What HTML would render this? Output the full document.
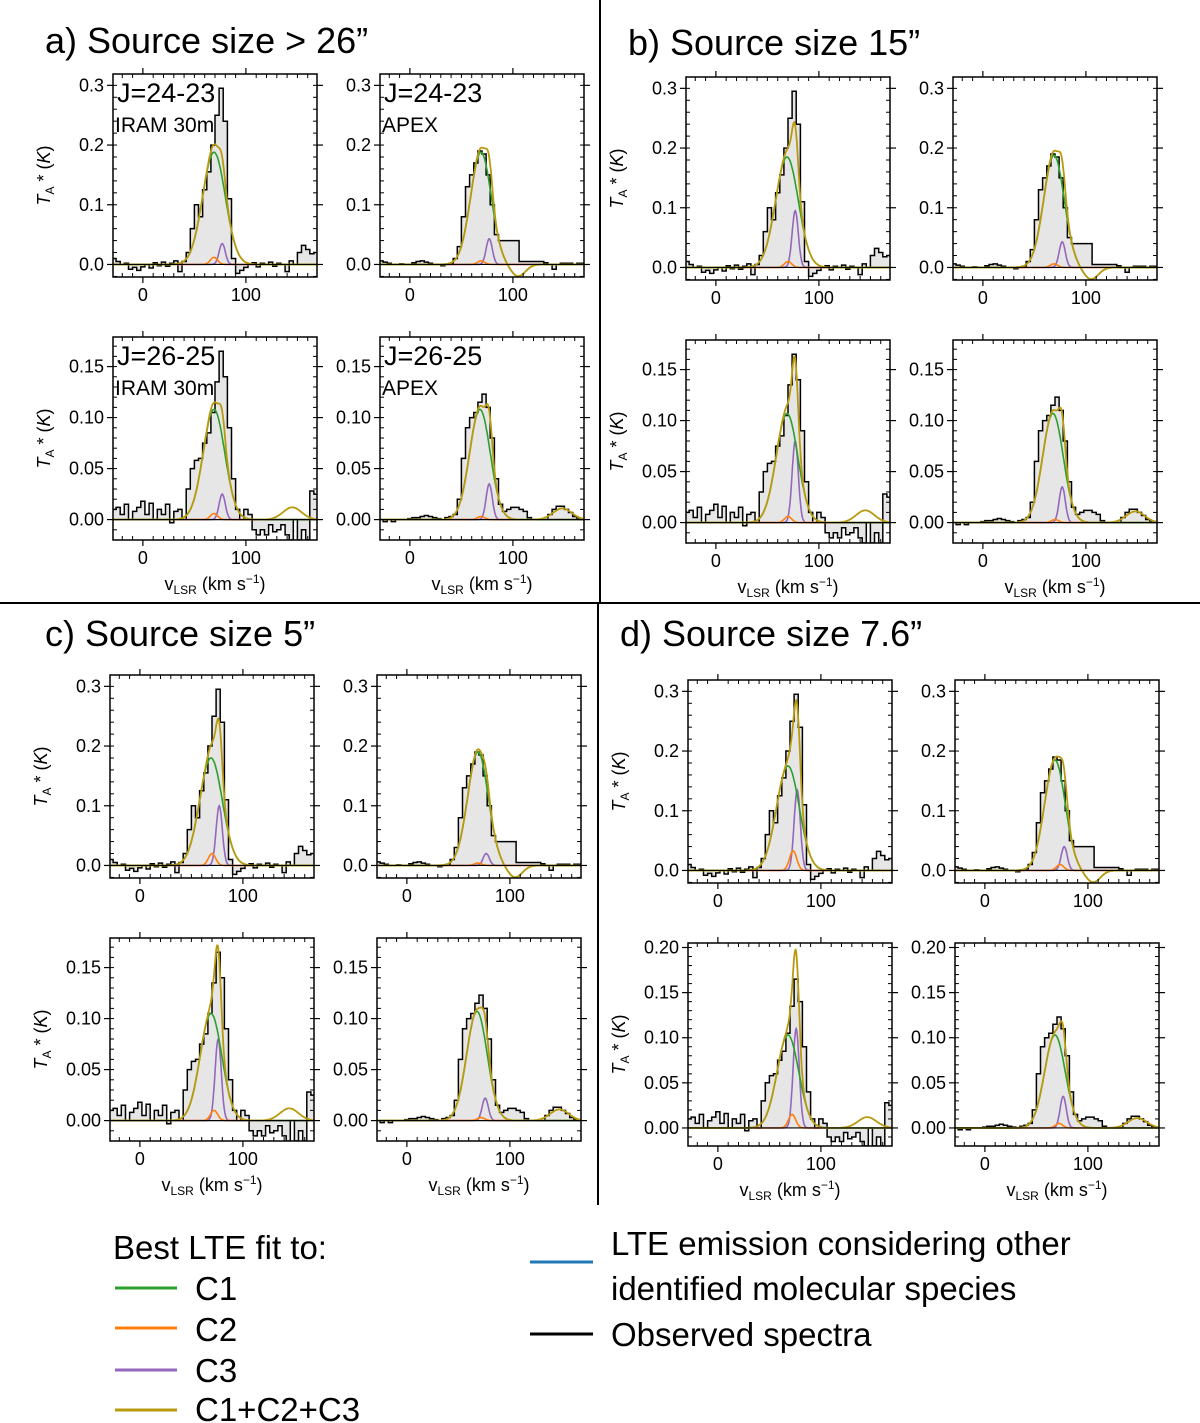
<!DOCTYPE html>
<html><head><meta charset="utf-8">
<style>
html,body{margin:0;padding:0;background:#fff;}
svg{display:block;font-family:"Liberation Sans",sans-serif;}
</style></head>
<body>
<svg id="fig" width="1200" height="1423" viewBox="0 0 1200 1423" xmlns="http://www.w3.org/2000/svg">
<rect x="0" y="0" width="1200" height="1423" fill="#fff"/>
<line x1="600" y1="0" x2="600" y2="603" stroke="#000" stroke-width="2"/>
<line x1="0" y1="603" x2="1200" y2="603" stroke="#000" stroke-width="2"/>
<line x1="598" y1="603" x2="598" y2="1205" stroke="#000" stroke-width="2"/>
<text x="45" y="53" font-size="36">a) Source size &gt; 26”</text>
<text x="628" y="55" font-size="36">b) Source size 15”</text>
<text x="45" y="646" font-size="36">c) Source size 5”</text>
<text x="620" y="646" font-size="36">d) Source size 7.6”</text>
<g id="plots"></g>
<g>
<text x="113" y="1259" font-size="33">Best LTE fit to:</text>
<line x1="115" y1="1288" x2="177" y2="1288" stroke="#2ca02c" stroke-width="3"/>
<text x="195" y="1300" font-size="33">C1</text>
<line x1="115" y1="1328" x2="177" y2="1328" stroke="#ff7f0e" stroke-width="3"/>
<text x="195" y="1341" font-size="33">C2</text>
<line x1="115" y1="1370" x2="177" y2="1370" stroke="#9467bd" stroke-width="3"/>
<text x="195" y="1382" font-size="33">C3</text>
<line x1="115" y1="1410" x2="177" y2="1410" stroke="#b99a0e" stroke-width="3"/>
<text x="195" y="1421" font-size="33">C1+C2+C3</text>
<line x1="530" y1="1262" x2="593" y2="1262" stroke="#1f77b4" stroke-width="3"/>
<text x="611" y="1255" font-size="33">LTE emission considering other</text>
<text x="611" y="1300" font-size="33">identified molecular species</text>
<line x1="530" y1="1334" x2="593" y2="1334" stroke="#000" stroke-width="3"/>
<text x="611" y="1346" font-size="33">Observed spectra</text>
</g>
</svg>
<script>
// Observed spectra, channels at V0 + i*DV km/s
const V0 = -28, DV = 4;
const obsIram24 = [0.01,0.005,0.0,0.002,-0.008,-0.005,-0.01,-0.004,0.0,-0.006,0.003,-0.002,0.004,-0.003,0.002,0.006,-0.012,0.005,0.02,0.06,0.10,0.08,0.125,0.155,0.2,0.25,0.295,0.24,0.11,0.01,-0.015,-0.01,-0.005,0.0,0.003,-0.004,0.002,0.0,0.004,-0.003,0.002,0.0,-0.012,0.006,0.0,0.02,0.032,0.025,0.018,0.02];
const obsApex24 = [0.006,0.004,0.002,0.0,0.0,0.001,0.0,0.0,0.003,0.005,0.006,0.004,0.002,0.0,0.0,-0.002,0.0,0.002,0.01,0.03,0.08,0.13,0.15,0.17,0.19,0.185,0.15,0.10,0.05,0.04,0.04,0.04,0.04,0.04,0.005,0.005,0.005,0.005,0.005,0.005,0.003,0.0,-0.008,0.0,0.002,0.002,0.002,0.0,0.002,0.002];
const obsIram26 = [0.01,0.012,0.005,0.015,0.0,0.008,0.012,0.018,0.005,0.016,0.0,0.01,0.005,0.015,-0.003,0.008,0.01,0.0,0.03,0.05,0.058,0.06,0.075,0.085,0.105,0.135,0.165,0.14,0.09,0.04,0.01,0.0,0.01,0.005,-0.01,-0.015,-0.01,-0.015,-0.005,-0.012,-0.01,-0.005,-0.015,-0.02,0.0,-0.02,-0.01,-0.02,0.028,0.025];
const obsApex26 = [0.0,-0.002,0.0,-0.002,0.0,0.0,0.0,0.001,0.002,0.002,0.003,0.004,0.003,0.002,0.001,0.0,0.002,0.003,0.005,0.02,0.06,0.09,0.10,0.105,0.115,0.123,0.11,0.08,0.04,0.015,0.008,0.01,0.012,0.012,0.01,0.008,0.002,0.0,0.0,0.0,0.0,0.005,0.01,0.013,0.013,0.01,0.007,0.003,0.001,0.0];

// Fit components per panel: a1,a2,a3,a4,b1..b4,c1..c4,d1..d4
const panelIds = ['a1','a2','a3','a4','b1','b2','b3','b4','c1','c2','c3','c4','d1','d2','d3','d4'];
const c1Amp = [0.188,0.188,0.108,0.108,0.185,0.188,0.107,0.107,0.18,0.19,0.105,0.107,0.175,0.185,0.103,0.103];
const c1Cen = [69,69,69,68,69,69,69,68,69,69,69,68,68,68,68,68];
const c1Sig = [11,10,10.5,10,11,10,10.5,10,11,10,10.5,10,11,10,10.5,10];
const c2Amp = [0.012,0.006,0.006,0.003,0.01,0.006,0.006,0.003,0.02,0.004,0.01,0.003,0.033,0.01,0.015,0.005];
const c2Cen = [69,69,69,69,70,69,70,70,70,69,72,72,73,73,72,72];
const c3Amp = [0.035,0.043,0.025,0.035,0.095,0.043,0.08,0.035,0.10,0.02,0.08,0.022,0.135,0.04,0.11,0.035];
const c3Cen = [77,77,77,77,77,77,77,77,77,77,76,76,77,77,76,76];
const dipAmp = [0,-0.02,0,0,0,-0.02,0,0,0,-0.02,0,0,0,-0.02,0,0];
const bumpAmp = [0,0,0.012,0.011,0,0,0.012,0.011,0,0,0.012,0.011,0,0,0.012,0.011];
const bumpCen = [0,0,145,148,0,0,145,148,0,0,145,148,0,0,145,148];

// layout
const layout = {
 a1:[113,74,'top','IRAM24','J=24-23','IRAM 30m'], a2:[380,74,'top','APEX24','J=24-23','APEX'],
 a3:[113,337,'bot','IRAM26','J=26-25','IRAM 30m'], a4:[380,337,'bot','APEX26','J=26-25','APEX'],
 b1:[686,77,'top','IRAM24'], b2:[953,77,'top','APEX24'], b3:[686,340,'bot','IRAM26'], b4:[953,340,'bot','APEX26'],
 c1:[110,675,'top','IRAM24'], c2:[377,675,'top','APEX24'], c3:[110,938,'bot','IRAM26'], c4:[377,938,'bot','APEX26'],
 d1:[688,680,'top','IRAM24'], d2:[955,680,'top','APEX24'], d3:[688,943,'bigbot','IRAM26'], d4:[955,943,'bigbot','APEX26']
};
const obsMap = {IRAM24:obsIram24, APEX24:obsApex24, IRAM26:obsIram26, APEX26:obsApex26};
const yTicksTop = [0.0,0.1,0.2,0.3], yLabTop=['0.0','0.1','0.2','0.3'];
const yTicksBot = [0.0,0.05,0.10,0.15], yLabBot=['0.00','0.05','0.10','0.15'];
const yTicksBig = [0.0,0.05,0.10,0.15,0.20], yLabBig=['0.00','0.05','0.10','0.15','0.20'];
const xTicks = [0,100], xLab=['0','100'];

const NS='http://www.w3.org/2000/svg';
const W=204,H=203,XMIN=-29,XMAX=169;
const root=document.getElementById('plots');
function mk(tag,attrs,parent){const e=document.createElementNS(NS,tag);for(const k in attrs)e.setAttribute(k,attrs[k]);parent.appendChild(e);return e;}
function g(a,c,s,v){return a*Math.exp(-0.5*((v-c)/s)**2);}

panelIds.forEach((id,pi)=>{
 const L=layout[id];const x0=L[0],y0=L[1],kind=L[2];
 let ymin,ymax,yt,yl,yminor;
 if(kind==='top'){ymin=-0.021;ymax=0.319;yt=yTicksTop;yl=yLabTop;yminor=0.02;}
 else if(kind==='bot'){ymin=-0.02;ymax=0.179;yt=yTicksBot;yl=yLabBot;yminor=0.01;}
 else {ymin=-0.02;ymax=0.205;yt=yTicksBig;yl=yLabBig;yminor=0.01;}
 const X=v=>x0+(v-XMIN)/(XMAX-XMIN)*W;
 const Y=t=>y0+H-(t-ymin)/(ymax-ymin)*H;
 const grp=mk('g',{},root);
 
 
 const cp=mk('clipPath',{id:'cp'+id},grp);
 mk('rect',{x:x0,y:y0,width:W,height:H},cp);
 const inner=mk('g',{'clip-path':'url(#cp'+id+')'},grp);
 const obs=obsMap[L[3]];
 let pts=[];
 obs.forEach((t,i)=>{const v=V0+i*DV;pts.push([X(v-DV/2),Y(t)],[X(v+DV/2),Y(t)]);});
 const fillD='M'+pts[0][0]+','+Y(0)+' '+pts.map(p=>'L'+p[0].toFixed(1)+','+p[1].toFixed(1)).join(' ')+' L'+pts[pts.length-1][0]+','+Y(0)+'Z';
 const fp=mk('path',{d:fillD,fill:'#e6e6e6',stroke:'none'},inner);
 
 
 const comps={c1:[],c2:[],c3:[],sum:[]};
 for(let v=XMIN;v<=XMAX;v+=0.5){
  const a=g(c1Amp[pi],c1Cen[pi],c1Sig[pi],v)+g(dipAmp[pi],105,7,v);
  const b=g(c2Amp[pi],c2Cen[pi],3.5,v);
  const c=g(c3Amp[pi],c3Cen[pi],3,v);
  const bump=bumpAmp[pi]?g(bumpAmp[pi],bumpCen[pi],9,v):0;
  comps.c1.push([X(v),Y(a)]);comps.c2.push([X(v),Y(b)]);comps.c3.push([X(v),Y(c)]);comps.sum.push([X(v),Y(a+b+c+bump)]);
 }
 const pl=arr=>arr.map(p=>p[0].toFixed(1)+','+p[1].toFixed(1)).join(' ');
 const op=mk('polyline',{points:pl(pts),fill:'none',stroke:'#000','stroke-width':1.5},inner);
 
 
 const l3=mk('polyline',{points:pl(comps.c3),fill:'none',stroke:'#9467bd','stroke-width':1.6},inner);
 
 
 const l2=mk('polyline',{points:pl(comps.c2),fill:'none',stroke:'#ff7f0e','stroke-width':1.6},inner);
 
 
 const l1=mk('polyline',{points:pl(comps.c1),fill:'none',stroke:'#2ca02c','stroke-width':1.6},inner);
 
 
 const ls=mk('polyline',{points:pl(comps.sum),fill:'none',stroke:'#b99a0e','stroke-width':1.8},inner);
 
 
 mk('line',{x1:x0,x2:x0+W,y1:Y(0),y2:Y(0),stroke:'#000','stroke-width':1.2},inner);
 const fr=mk('rect',{x:x0,y:y0,width:W,height:H,fill:'none',stroke:'#000','stroke-width':1.5},grp);
 
 
 for(let v=-20;v<=160;v+=10){const px=X(v);const major=(v%100===0);
  if(major){mk('line',{x1:px,x2:px,y1:y0+H,y2:y0+H+6,stroke:'#000','stroke-width':1.2},grp);mk('line',{x1:px,x2:px,y1:y0,y2:y0-6,stroke:'#000','stroke-width':1.2},grp);}
  else{mk('line',{x1:px,x2:px,y1:y0+H,y2:y0+H-4,stroke:'#000','stroke-width':1},grp);mk('line',{x1:px,x2:px,y1:y0,y2:y0+4,stroke:'#000','stroke-width':1},grp);}
 }
 xTicks.forEach((v,i)=>{const t=mk('text',{x:X(v),y:y0+H+24,'font-size':18,'text-anchor':'middle'},grp);t.textContent=xLab[i];
  
  });
 for(let t=-0.02;t<=ymax+1e-9;t+=yminor){const py=Y(t);if(py<y0||py>y0+H)continue;
  mk('line',{x1:x0,x2:x0+4,y1:py,y2:py,stroke:'#000','stroke-width':1},grp);
  mk('line',{x1:x0+W,x2:x0+W-4,y1:py,y2:py,stroke:'#000','stroke-width':1},grp);}
 yt.forEach((t,i)=>{const py=Y(t);
  mk('line',{x1:x0,x2:x0-6,y1:py,y2:py,stroke:'#000','stroke-width':1.2},grp);
  mk('line',{x1:x0+W,x2:x0+W+6,y1:py,y2:py,stroke:'#000','stroke-width':1.2},grp);
  const tx=mk('text',{x:x0-9,y:py+6,'font-size':18,'text-anchor':'end'},grp);tx.textContent=yl[i];
  
  });
 const col=id[1];
 if(col==='1'||col==='3'){
  const yl2=mk('text',{x:0,y:0,'font-size':18,'text-anchor':'middle',transform:`translate(${x0-63},${y0+H/2}) rotate(-90)`},grp);
  yl2.innerHTML='<tspan font-style="italic">T</tspan><tspan font-size="12" dy="4">A</tspan><tspan dy="-4"> * (</tspan><tspan font-style="italic">K</tspan><tspan>)</tspan>';
  
  
 }
 if(col==='3'||col==='4'){
  const xl=mk('text',{x:x0+W/2,y:y0+H+50,'font-size':18,'text-anchor':'middle'},grp);
  xl.innerHTML='v<tspan font-size="12" dy="4">LSR</tspan><tspan dy="-4"> (km s</tspan><tspan font-size="12" dy="-7">−1</tspan><tspan dy="7">)</tspan>';
  
  
 }
 if(L[4]){
  const t1=mk('text',{x:x0+4,y:y0+28,'font-size':27},grp);t1.textContent=L[4];
  
  
  const t2=mk('text',{x:x0+2,y:y0+58,'font-size':21},grp);t2.textContent=L[5];
  
  
 }
});
</script>
</body></html>
